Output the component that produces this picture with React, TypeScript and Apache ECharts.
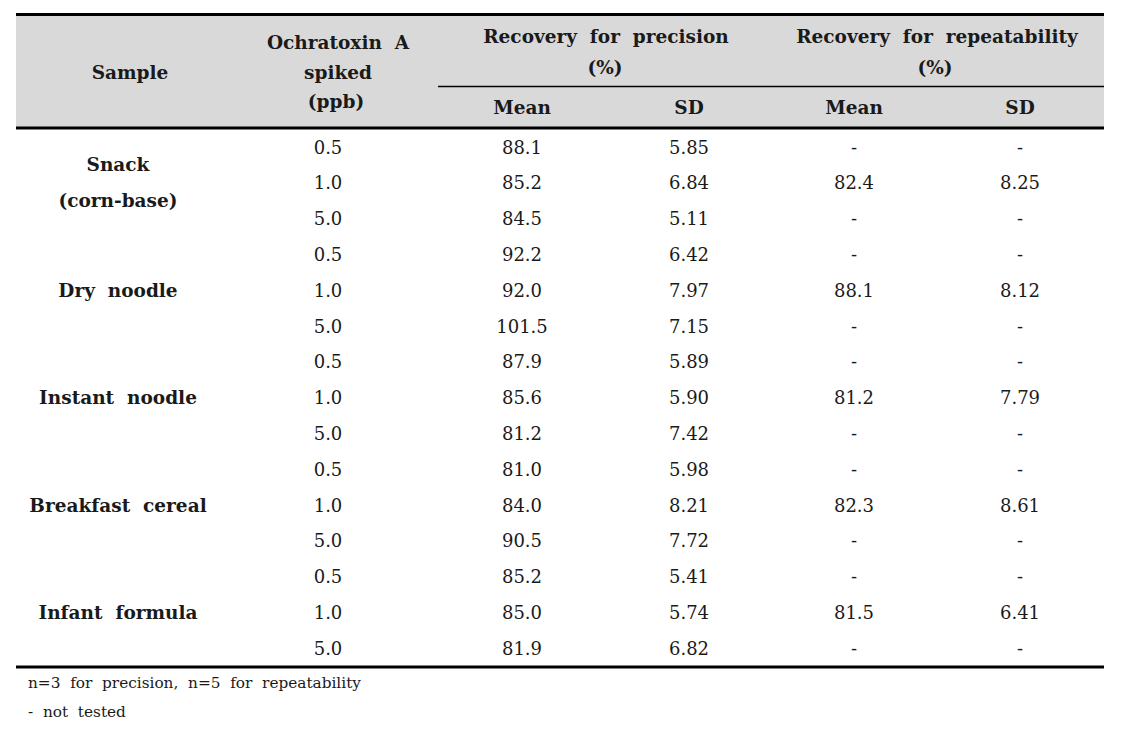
import React, { useEffect, useRef } from "react";
import * as echarts from "echarts";

const samples: string[][] = [
  ["Snack", "(corn-base)"],
  ["Dry  noodle"],
  ["Instant  noodle"],
  ["Breakfast  cereal"],
  ["Infant  formula"],
];
const spikeLevels = ["0.5", "1.0", "5.0"];
const precisionMean = [
  "88.1", "85.2", "84.5",
  "92.2", "92.0", "101.5",
  "87.9", "85.6", "81.2",
  "81.0", "84.0", "90.5",
  "85.2", "85.0", "81.9",
];
const precisionSD = [
  "5.85", "6.84", "5.11",
  "6.42", "7.97", "7.15",
  "5.89", "5.90", "7.42",
  "5.98", "8.21", "7.72",
  "5.41", "5.74", "6.82",
];
const repeatMean = [
  "-", "82.4", "-",
  "-", "88.1", "-",
  "-", "81.2", "-",
  "-", "82.3", "-",
  "-", "81.5", "-",
];
const repeatSD = [
  "-", "8.25", "-",
  "-", "8.12", "-",
  "-", "7.79", "-",
  "-", "8.61", "-",
  "-", "6.41", "-",
];
const footnotes = ["n=3  for  precision,  n=5  for  repeatability", "-  not  tested"];

export default function App() {
  const ref = useRef<HTMLDivElement>(null);
  useEffect(() => {
    if (!ref.current) return;
    const chart = echarts.init(ref.current, null, { renderer: "svg" });
    const font = "'Book Antiqua', Palatino, 'Palatino Linotype', 'DejaVu Serif', serif";
    const txtColor = "#1a1a1a";
    const L = 16, R = 1104;
    const rowY0 = 147, rowH = 35.8;
    const colX = { sample: 118, spike: 328, pm: 522, psd: 689, rm: 854, rsd: 1020 };
    const els: any[] = [];
    const text = (x: number, y: number, t: string, bold: boolean, size: number, align = "center") => {
      els.push({
        type: "text", x, y,
        style: { text: t, fill: txtColor, font: `${bold ? "bold " : ""}${size}px ${font}`, align, verticalAlign: "middle" },
      });
    };
    const line = (x1: number, y1: number, x2: number, y2: number, w: number) => {
      els.push({ type: "line", shape: { x1, y1, x2, y2 }, style: { stroke: "#000", lineWidth: w } });
    };
    // header background
    els.push({ type: "rect", shape: { x: L, y: 15, width: R - L, height: 112 }, style: { fill: "#d9d9d9" } });
    line(L, 14.5, R, 14.5, 3);
    line(438, 86.5, R, 86.5, 1.5);
    line(L, 128, R, 128, 3);
    line(L, 667, R, 667, 3);

    const hs = 18.5;
    text(130, 72, "Sample", true, hs);
    text(338, 42, "Ochratoxin  A", true, hs);
    text(338, 72, "spiked", true, hs);
    text(336, 101, "(ppb)", true, hs);
    text(606, 36, "Recovery  for  precision", true, hs);
    text(605, 67, "(%)", true, hs);
    text(937, 36, "Recovery  for  repeatability", true, hs);
    text(935, 67, "(%)", true, hs);
    text(colX.pm, 107, "Mean", true, hs);
    text(colX.psd, 107, "SD", true, hs);
    text(colX.rm, 107, "Mean", true, hs);
    text(colX.rsd, 107, "SD", true, hs);

    const ds = 18;
    samples.forEach((names, g) => {
      const cy = rowY0 + rowH * (g * 3 + 1);
      if (names.length === 1) text(colX.sample, cy, names[0], true, hs);
      else names.forEach((n, k) => text(colX.sample, cy + (k - (names.length - 1) / 2) * 36, n, true, hs));
      spikeLevels.forEach((s, r) => {
        const i = g * 3 + r;
        const y = rowY0 + rowH * i;
        text(colX.spike, y, s, false, ds);
        text(colX.pm, y, precisionMean[i], false, ds);
        text(colX.psd, y, precisionSD[i], false, ds);
        text(colX.rm, y, repeatMean[i], false, ds);
        text(colX.rsd, y, repeatSD[i], false, ds);
      });
    });
    text(28, 683, footnotes[0], false, 15.3, "left");
    text(28, 712, footnotes[1], false, 15.3, "left");

    chart.setOption({ animation: false, backgroundColor: "#fff", graphic: { elements: els } });
    return () => chart.dispose();
  }, []);
  return <div ref={ref} style={{ position: "fixed", left: 0, top: 0, width: 1126, height: 740 }} />;
}
